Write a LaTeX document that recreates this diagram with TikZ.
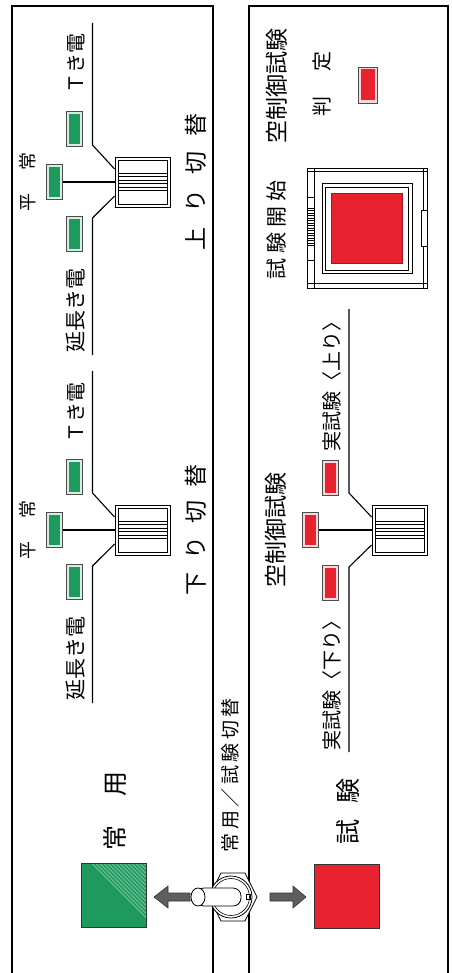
\documentclass[tikz,border=0pt]{standalone}
\usepackage{fontspec}
\newfontfamily\jp{Noto Sans CJK JP}
\usepackage{tikz}
\usetikzlibrary{positioning}
\definecolor{lampgreen}{HTML}{1E9A5C}
\definecolor{lampred}{HTML}{E8232F}
\definecolor{leverink}{HTML}{5E5E5E}

\tikzset{
  lamp/.style={draw=black!70, line width=0.7pt, fill=#1!18, minimum width=16pt,
    minimum height=35pt, inner sep=0pt,
    path picture={\fill[#1] ([shift={(2.5pt,2.5pt)}]path picture bounding box.south west)
      rectangle ([shift={(-2.5pt,-2.5pt)}]path picture bounding box.north east);}},
  rotsw/.style={draw, line width=0.9pt, fill=white, minimum width=55pt, minimum height=50pt,
    inner sep=0pt,
    path picture={\draw[line width=0.7pt] ([shift={(3pt,3pt)}]path picture bounding box.south west)
      rectangle ([shift={(-3pt,-3pt)}]path picture bounding box.north east);
      \foreach \d in {9,6,2,-1.5,-5,-8.5}
        \draw[line width=0.7pt] ([shift={(3pt,\d pt)}]path picture bounding box.west)
          -- ([shift={(-3pt,\d pt)}]path picture bounding box.east);}},
  lbl/.style={rotate=90, inner sep=0pt, font=\jp\fontsize{#1}{#1}\selectfont},
  lbl/.default=20,
  wire/.style={line width=1.1pt},
  bigsq/.style={draw=black!80, line width=0.7pt, inner sep=0pt, minimum width=65pt, minimum height=64pt},
  pointer/.style={fill=leverink, draw=black!80, line width=0.6pt},
}

\begin{document}
\begin{tikzpicture}[x=1pt,y=-1pt]
\useasboundingbox (0,0) rectangle (451,973);
\fill[white] (0,0) rectangle (451,973);
% panels
\draw[line width=1.1pt] (12,973) -- (12,6) -- (213,6) -- (213,973);
\draw[line width=1.1pt] (249,973) -- (249,6) -- (448,6) -- (448,973);

% selector switches, normal side
\foreach \cy/\nm/\txt in {182/up/上\hspace{15pt}り\hspace{15pt}切\hspace{15pt}替,
                          530/dn/下\hspace{13pt}り\hspace{13pt}切\hspace{13pt}替}{
  \node[rotsw] (sw\nm) at (142.5,\cy) {};
  \node[lamp=lampgreen] (lm\nm) at (54.5,\cy) {};
  \node[lamp=lampgreen] (lt\nm) at (74.5,\cy-53) {};
  \node[lamp=lampgreen] (le\nm) at (74.5,\cy+52) {};
  \coordinate (ta\nm) at (92.5,\cy-37);
  \coordinate (tb\nm) at (92.5,\cy-159);
  \coordinate (ea\nm) at (92.5,\cy+36);
  \coordinate (eb\nm) at (92.5,\cy+173);
  \draw[wire] (sw\nm.west) -- (lm\nm.east);
  \draw[wire] ([yshift=13pt]sw\nm.west) -- (ta\nm) -- (tb\nm);
  \draw[wire] ([yshift=-14pt]sw\nm.west) -- (ea\nm) -- (eb\nm);
  \node[lbl] (tt\nm) at (76,\cy-118) {Ｔき電};
  \node[lbl=21] (et\nm) at (76,\cy+128) {延長き電};
  \node[lbl=18] (nt\nm) at (28,\cy) {平\hspace{23pt}常};
  \node[lbl=23] (sl\nm) at (196,\cy) {\txt};
}

% selector switch, test side
\node[rotsw] (swts) at (399.5,530) {};
\node[lamp=lampred] (lmts) at (310.5,530) {};
\node[lamp=lampred] (luts) at (330.5,478) {};
\node[lamp=lampred] (ldts) at (330.5,582.5) {};
\coordinate (ua) at (349,493);
\coordinate (ub) at (349,309);
\coordinate (da) at (349,567);
\coordinate (db) at (349,752);
\draw[wire] (swts.west) -- (lmts.east);
\draw[wire] ([yshift=13pt]swts.west) -- (ua) -- (ub);
\draw[wire] ([yshift=-15pt]swts.west) -- (da) -- (db);
\node[lbl=23] (airtxt) at (276,530) {空制御試験};
\node[lbl] (uptxt) at (332,381) {実試験〈上り〉};
\node[lbl] (dntxt) at (332,680) {実試験〈下り〉};

% start button
\node[draw, line width=0.9pt, minimum width=120pt, minimum height=120pt, inner sep=0pt] (startbtn) at (367,228) {};
\draw ([yshift=-4pt]startbtn.north west) -- ([yshift=-4pt]startbtn.north east);
\draw ([yshift=5pt]startbtn.south west) -- ([yshift=5pt]startbtn.south east);
\draw ([xshift=8pt]startbtn.north west) -- ([xshift=8pt]startbtn.south west);
\draw ([xshift=-4pt]startbtn.north east) -- ([xshift=-4pt]startbtn.south east);
\foreach \y in {197,260} \draw (307,\y) -- (315,\y);
\foreach \y in {208,210.5,...,247} \draw[line width=0.4pt] (307,\y) -- (315,\y);
\draw[fill=white] (421,210) rectangle (427,246);
\draw[line width=0.8pt] (322,183) rectangle (412,273);
\draw (325,187) rectangle (408,270);
\node[fill=lampred, draw=lampred!70!black, line width=0.4pt, minimum width=71pt, minimum height=70pt, inner sep=0pt] (startsq) at (366.5,228) {};
\node[lbl=21] (starttxt) at (277,230) {試\hspace{5pt}験\hspace{5pt}開\hspace{5pt}始};

% judgement lamp
\node[lbl=23] (judgetitle) at (277,86) {空制御試験};
\node[lbl] (judgetxt) at (322,84) {判\hspace{25pt}定};
\node[lamp=lampred, minimum width=19pt, minimum height=36pt] (judgelamp) at (367.5,85) {};

% mode toggle
\node[lbl=19] (modetxt) at (230,775) {常\hspace{3.5pt}用\hspace{3.5pt}／\hspace{3.5pt}試\hspace{3.5pt}験\hspace{3.5pt}切\hspace{3.5pt}替};
\filldraw[fill=white, line width=0.8pt] (209,897) -- (221,873) -- (245,873) -- (257,897) -- (245,921) -- (221,921) -- cycle;
\draw[fill=white, line width=0.8pt] (231,897) circle (21pt);
\draw[line width=0.6pt] (231,897) circle (18.5pt);
\draw (246,894.5) rectangle (250,899.5);
\draw[fill=white, line width=0.8pt, rounded corners=8pt] (196,888) rectangle (241,906);
\draw[fill=white, line width=0.8pt] (198,897) ellipse [x radius=7pt, y radius=9pt];
\filldraw[pointer] (190,893) -- (168,893) -- (168,886) -- (154,897) -- (168,908) -- (168,901) -- (190,901) -- cycle;
\filldraw[pointer] (270,893) -- (293,893) -- (293,886) -- (306,897) -- (293,908) -- (293,901) -- (270,901) -- cycle;

% mode lamps
\node[bigsq, fill=lampgreen, path picture={\foreach \k in {0,4,...,52}
    \draw[lampgreen!40!white, line width=0.5pt] ([xshift={(11+\k)*1pt}]path picture bounding box.north west)
      -- ([yshift={-(54-\k)*1pt}]path picture bounding box.north east);}] (usesq) at (113.5,895.5) {};
\node[lbl=25] (usetxt) at (115,811) {常\hspace{29pt}用};
\node[bigsq, fill=lampred] (testsq) at (346.5,896.5) {};
\node[lbl=25] (testtxt) at (348,811) {試\hspace{16pt}験};
\end{tikzpicture}
\end{document}
